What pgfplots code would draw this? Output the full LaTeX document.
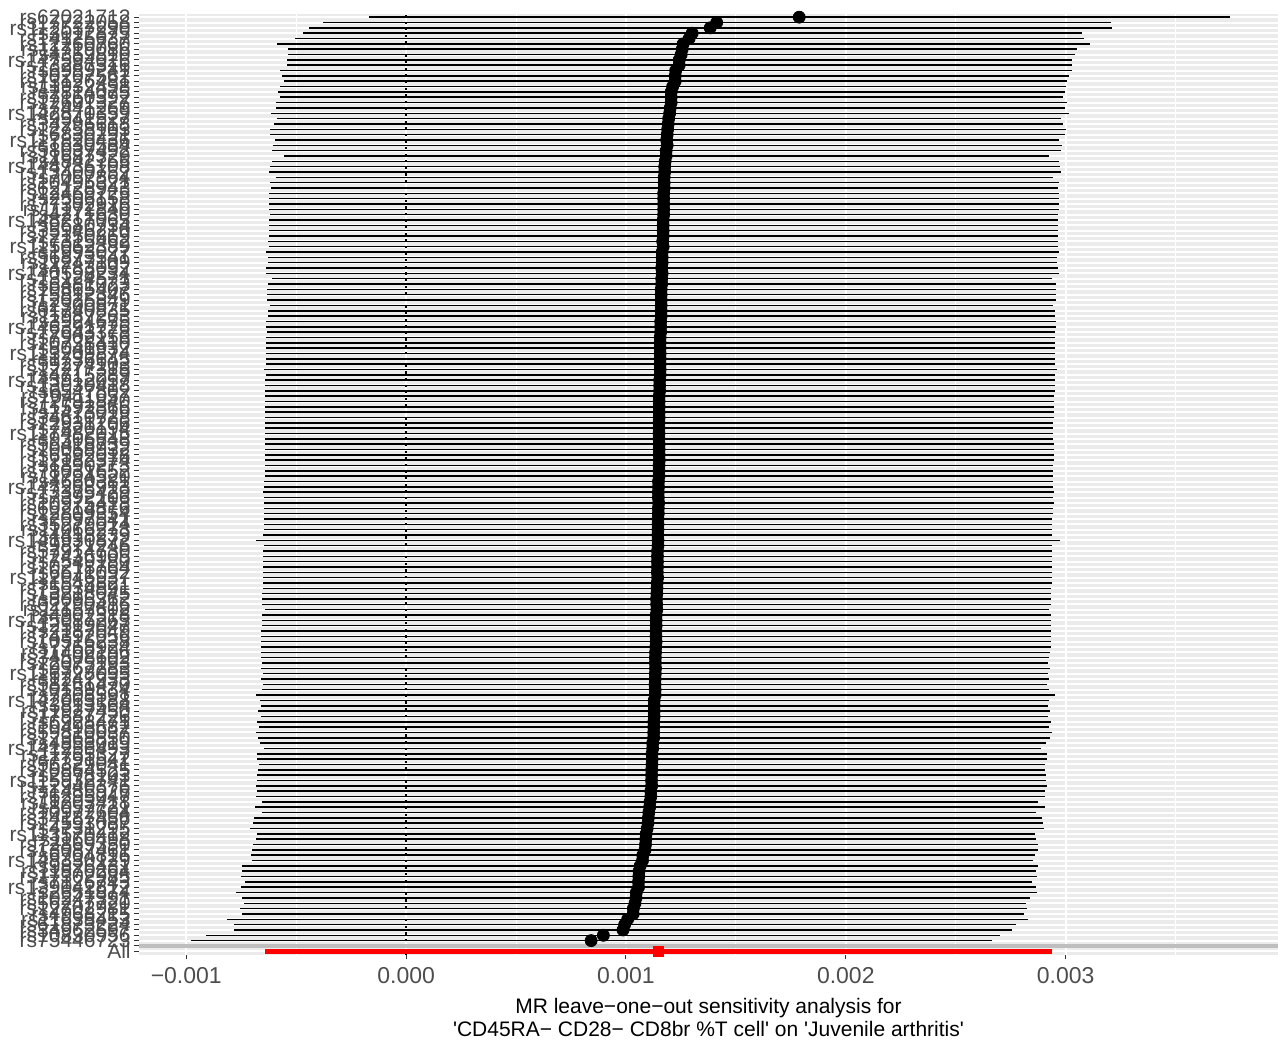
\documentclass[border=0pt]{standalone}
\usepackage{fontspec}
\setmainfont{Liberation Sans}
\usepackage{pgfplots}
\usepackage{pgfplotstable}
\pgfplotsset{compat=1.18}
\definecolor{gg92}{HTML}{EBEBEB}
\definecolor{gg30}{HTML}{4D4D4D}
\definecolor{gg20}{HTML}{333333}
\definecolor{ggrey}{HTML}{BEBEBE}
\definecolor{ggred}{HTML}{FF0000}

\pgfplotstableread{
y b lo hi
176 1.7880e-3 -0.1706e-3 3.7466e-3
175 1.4127e-3 -0.3799e-3 3.2052e-3
174 1.3831e-3 -0.4436e-3 3.2098e-3
173 1.3012e-3 -0.4709e-3 3.0732e-3
172 1.2875e-3 -0.5073e-3 3.0823e-3
171 1.2602e-3 -0.5892e-3 3.1096e-3
170 1.2557e-3 -0.5391e-3 3.0505e-3
169 1.2512e-3 -0.5391e-3 3.0414e-3
168 1.2421e-3 -0.5437e-3 3.0278e-3
167 1.2421e-3 -0.5437e-3 3.0278e-3
166 1.2262e-3 -0.5755e-3 3.0278e-3
165 1.2239e-3 -0.5664e-3 3.0141e-3
164 1.2239e-3 -0.5573e-3 3.0050e-3
163 1.2125e-3 -0.5755e-3 3.0005e-3
162 1.2057e-3 -0.5846e-3 2.9959e-3
161 1.2057e-3 -0.5755e-3 2.9868e-3
160 1.2057e-3 -0.5937e-3 3.0050e-3
159 1.2011e-3 -0.5937e-3 2.9959e-3
158 1.1988e-3 -0.6165e-3 3.0141e-3
157 1.1943e-3 -0.5892e-3 2.9777e-3
156 1.1920e-3 -0.6028e-3 2.9868e-3
155 1.1898e-3 -0.6210e-3 3.0005e-3
154 1.1875e-3 -0.6210e-3 2.9959e-3
153 1.1852e-3 -0.5983e-3 2.9686e-3
152 1.1875e-3 -0.6074e-3 2.9823e-3
151 1.1829e-3 -0.6119e-3 2.9777e-3
150 1.1829e-3 -0.5573e-3 2.9231e-3
149 1.1784e-3 -0.6119e-3 2.9686e-3
148 1.1761e-3 -0.6210e-3 2.9732e-3
147 1.1761e-3 -0.6256e-3 2.9777e-3
146 1.1738e-3 -0.5937e-3 2.9413e-3
145 1.1738e-3 -0.6210e-3 2.9686e-3
144 1.1738e-3 -0.6165e-3 2.9641e-3
143 1.1715e-3 -0.6256e-3 2.9686e-3
142 1.1715e-3 -0.6256e-3 2.9686e-3
141 1.1715e-3 -0.6256e-3 2.9686e-3
140 1.1715e-3 -0.6256e-3 2.9686e-3
139 1.1715e-3 -0.6210e-3 2.9641e-3
138 1.1693e-3 -0.6256e-3 2.9641e-3
137 1.1693e-3 -0.6256e-3 2.9641e-3
136 1.1693e-3 -0.6256e-3 2.9641e-3
135 1.1693e-3 -0.6256e-3 2.9641e-3
134 1.1670e-3 -0.6301e-3 2.9641e-3
133 1.1693e-3 -0.6256e-3 2.9641e-3
132 1.1647e-3 -0.6392e-3 2.9686e-3
131 1.1647e-3 -0.6301e-3 2.9595e-3
130 1.1647e-3 -0.6301e-3 2.9595e-3
129 1.1625e-3 -0.6392e-3 2.9641e-3
128 1.1647e-3 -0.6392e-3 2.9686e-3
127 1.1625e-3 -0.6119e-3 2.9368e-3
126 1.1625e-3 -0.6301e-3 2.9550e-3
125 1.1602e-3 -0.6347e-3 2.9550e-3
124 1.1602e-3 -0.6347e-3 2.9550e-3
123 1.1602e-3 -0.6347e-3 2.9550e-3
122 1.1602e-3 -0.6210e-3 2.9413e-3
121 1.1602e-3 -0.6301e-3 2.9504e-3
120 1.1602e-3 -0.6301e-3 2.9504e-3
119 1.1579e-3 -0.6392e-3 2.9550e-3
118 1.1579e-3 -0.6392e-3 2.9550e-3
117 1.1579e-3 -0.6347e-3 2.9504e-3
116 1.1556e-3 -0.6392e-3 2.9504e-3
115 1.1556e-3 -0.6392e-3 2.9504e-3
114 1.1556e-3 -0.6392e-3 2.9504e-3
113 1.1556e-3 -0.6392e-3 2.9504e-3
112 1.1556e-3 -0.6392e-3 2.9504e-3
111 1.1556e-3 -0.6392e-3 2.9504e-3
110 1.1556e-3 -0.6483e-3 2.9595e-3
109 1.1556e-3 -0.6392e-3 2.9504e-3
108 1.1533e-3 -0.6438e-3 2.9504e-3
107 1.1533e-3 -0.6438e-3 2.9504e-3
106 1.1533e-3 -0.6438e-3 2.9504e-3
105 1.1511e-3 -0.6438e-3 2.9459e-3
104 1.1511e-3 -0.6438e-3 2.9459e-3
103 1.1511e-3 -0.6438e-3 2.9459e-3
102 1.1511e-3 -0.6438e-3 2.9459e-3
101 1.1511e-3 -0.6438e-3 2.9459e-3
100 1.1504e-3 -0.6438e-3 2.9445e-3
99 1.1504e-3 -0.6438e-3 2.9445e-3
98 1.1504e-3 -0.6438e-3 2.9445e-3
97 1.1504e-3 -0.6438e-3 2.9445e-3
96 1.1511e-3 -0.6438e-3 2.9459e-3
95 1.1511e-3 -0.6438e-3 2.9459e-3
94 1.1511e-3 -0.6438e-3 2.9459e-3
93 1.1517e-3 -0.6438e-3 2.9472e-3
92 1.1504e-3 -0.6438e-3 2.9445e-3
91 1.1504e-3 -0.6438e-3 2.9445e-3
90 1.1504e-3 -0.6438e-3 2.9445e-3
89 1.1479e-3 -0.6469e-3 2.9427e-3
88 1.1481e-3 -0.6483e-3 2.9445e-3
87 1.1472e-3 -0.6515e-3 2.9459e-3
86 1.1472e-3 -0.6469e-3 2.9413e-3
85 1.1488e-3 -0.6483e-3 2.9459e-3
84 1.1472e-3 -0.6483e-3 2.9427e-3
83 1.1472e-3 -0.6469e-3 2.9413e-3
82 1.1458e-3 -0.6483e-3 2.9399e-3
81 1.1458e-3 -0.6483e-3 2.9399e-3
80 1.1458e-3 -0.6483e-3 2.9399e-3
79 1.1451e-3 -0.6497e-3 2.9399e-3
78 1.1458e-3 -0.6847e-3 2.9763e-3
77 1.1458e-3 -0.6483e-3 2.9399e-3
76 1.1436e-3 -0.6497e-3 2.9368e-3
75 1.1433e-3 -0.6515e-3 2.9381e-3
74 1.1433e-3 -0.6515e-3 2.9381e-3
73 1.1433e-3 -0.6515e-3 2.9381e-3
72 1.1426e-3 -0.6529e-3 2.9381e-3
71 1.1442e-3 -0.6515e-3 2.9399e-3
70 1.1420e-3 -0.6529e-3 2.9368e-3
69 1.1413e-3 -0.6529e-3 2.9354e-3
68 1.1406e-3 -0.6542e-3 2.9354e-3
67 1.1390e-3 -0.6542e-3 2.9322e-3
66 1.1397e-3 -0.6561e-3 2.9354e-3
65 1.1404e-3 -0.6424e-3 2.9231e-3
64 1.1374e-3 -0.6574e-3 2.9322e-3
63 1.1374e-3 -0.6574e-3 2.9322e-3
62 1.1374e-3 -0.6574e-3 2.9322e-3
61 1.1367e-3 -0.6588e-3 2.9322e-3
60 1.1367e-3 -0.6588e-3 2.9322e-3
59 1.1374e-3 -0.6606e-3 2.9354e-3
58 1.1358e-3 -0.6606e-3 2.9322e-3
57 1.1345e-3 -0.6588e-3 2.9277e-3
56 1.1338e-3 -0.6588e-3 2.9263e-3
55 1.1338e-3 -0.6542e-3 2.9217e-3
54 1.1345e-3 -0.6620e-3 2.9309e-3
53 1.1335e-3 -0.6529e-3 2.9199e-3
52 1.1329e-3 -0.6606e-3 2.9263e-3
51 1.1322e-3 -0.6529e-3 2.9172e-3
50 1.1329e-3 -0.6574e-3 2.9231e-3
49 1.1329e-3 -0.6847e-3 2.9504e-3
48 1.1283e-3 -0.6665e-3 2.9231e-3
47 1.1283e-3 -0.6620e-3 2.9186e-3
46 1.1283e-3 -0.6743e-3 2.9309e-3
45 1.1283e-3 -0.6620e-3 2.9186e-3
44 1.1267e-3 -0.6788e-3 2.9322e-3
43 1.1267e-3 -0.6697e-3 2.9231e-3
42 1.1261e-3 -0.6847e-3 2.9368e-3
41 1.1261e-3 -0.6756e-3 2.9277e-3
40 1.1215e-3 -0.6665e-3 2.9095e-3
39 1.1215e-3 -0.6469e-3 2.8899e-3
38 1.1185e-3 -0.6770e-3 2.9140e-3
37 1.1192e-3 -0.6788e-3 2.9172e-3
36 1.1183e-3 -0.6697e-3 2.9063e-3
35 1.1169e-3 -0.6743e-3 2.9081e-3
34 1.1169e-3 -0.6788e-3 2.9126e-3
33 1.1163e-3 -0.6770e-3 2.9095e-3
32 1.1169e-3 -0.6834e-3 2.9172e-3
31 1.1131e-3 -0.6802e-3 2.9063e-3
30 1.1133e-3 -0.6815e-3 2.9081e-3
29 1.1094e-3 -0.6574e-3 2.8762e-3
28 1.1078e-3 -0.6893e-3 2.9049e-3
27 1.1040e-3 -0.6574e-3 2.8653e-3
26 1.1019e-3 -0.6906e-3 2.8944e-3
25 1.1003e-3 -0.6984e-3 2.8990e-3
24 1.0965e-3 -0.7106e-3 2.9035e-3
23 1.0919e-3 -0.6788e-3 2.8626e-3
22 1.0903e-3 -0.6847e-3 2.8653e-3
21 1.0889e-3 -0.6984e-3 2.8762e-3
20 1.0867e-3 -0.7029e-3 2.8762e-3
19 1.0767e-3 -0.7061e-3 2.8594e-3
18 1.0753e-3 -0.7029e-3 2.8535e-3
17 1.0646e-3 -0.7470e-3 2.8762e-3
16 1.0594e-3 -0.7484e-3 2.8672e-3
15 1.0585e-3 -0.7516e-3 2.8685e-3
14 1.0571e-3 -0.7348e-3 2.8490e-3
13 1.0571e-3 -0.7530e-3 2.8672e-3
12 1.0471e-3 -0.7757e-3 2.8699e-3
11 1.0458e-3 -0.7484e-3 2.8399e-3
10 1.0412e-3 -0.7393e-3 2.8217e-3
9 1.0335e-3 -0.7575e-3 2.8244e-3
8 1.0328e-3 -0.7452e-3 2.8108e-3
7 1.0078e-3 -0.8153e-3 2.8308e-3
6 0.9941e-3 -0.7848e-3 2.7730e-3
5 0.9866e-3 -0.7848e-3 2.7580e-3
4 0.8972e-3 -0.9090e-3 2.7034e-3
3 0.8417e-3 -0.9804e-3 2.6638e-3
}\snps

\pgfplotstableread{
y b lo hi
1 1.1465e-3 -0.6438e-3 2.9368e-3
}\allrow

\begin{document}
\begin{tikzpicture}[x=1pt,y=1pt]
\path[use as bounding box] (0,0) rectangle (639,521.5);
\begin{axis}[
  at={(69.5pt,44.25pt)}, anchor=south west,
  scale only axis, width=569.5pt, height=470.25pt,
  xmin=-0.001215, xmax=0.003966, ymin=0.4, ymax=176.6,
  scaled x ticks=false,
  axis background/.style={fill=gg92},
  axis line style={draw=none},
  xtick={-0.001,0,0.001,0.002,0.003},
  xticklabels={−0.001,0.000,0.001,0.002,0.003},
  minor xtick={-0.0005,0.0005,0.0015,0.0025,0.0035},
  ytick={1,...,176},
  yticklabels={All,{},rs75446723,rs10830956,rs34962597,rs61873224,rs11638453,rs4968215,rs12702981,rs56247720,rs10247391,rs2651874,rs139042812,
rs7126743,rs17302985,rs11870264,rs9826431,rs148330129,rs6704816,rs13087461,rs72869350,rs1160498,rs113570412,
rs4731295,rs12593087,rs34187456,rs10972604,rs8057721,rs11203418,rs76295047,rs1485926,rs12940376,rs115932741,
rs2978103,rs10864525,rs56329041,rs7791542,rs11755327,rs141256493,rs4853019,rs12368850,rs59810037,rs10493682,
rs6928471,rs17587226,rs11927450,rs3813564,rs142063188,rs7208591,rs10159834,rs58261470,rs1247933,rs116728095,
rs9367283,rs12075193,rs34508602,rs11402196,rs7768924,rs10516238,rs74392056,rs2187049,rs12519047,rs145087263,
rs4902318,rs11157602,rs62290416,rs8095362,rs13218045,rs75034891,rs1548821,rs112046937,rs6671092,rs10218764,
rs7549180,rs12436905,rs57914730,rs9871246,rs141930872,rs4418239,rs11066273,rs35279014,rs2097541,rs12809354,
rs60214876,rs10975418,rs7392106,rs13375429,rs147268913,rs4660381,rs11794520,rs78031652,rs1890273,rs12182374,
rs6592018,rs10058932,rs56418739,rs9306648,rs117482015,rs7820194,rs12931206,rs34610728,rs2473019,rs11592366,
rs72791840,rs10411057,rs6547802,rs13030418,rs143912057,rs4715289,rs12277315,rs59274103,rs1736645,rs113209874,
rs8041932,rs10738410,rs7902156,rs12643378,rs146391726,rs3924675,rs11987263,rs61740835,rs2300871,rs12025849,
rs75812346,rs10865407,rs6481023,rs13124571,rs140598234,rs4783092,rs11247109,rs56873541,rs1993027,rs115062389,
rs7315462,rs12150869,rs35946210,rs9680734,rs148217065,rs4271630,rs11172840,rs77302916,rs2506158,rs12469725,
rs62128943,rs10495321,rs7057864,rs13400752,rs144736108,rs4842765,rs11687329,rs58037492,rs1630584,rs117820436,
rs6830291,rs12758103,rs34296618,rs9941527,rs142870359,rs7441269,rs12601327,rs57160392,rs2814075,rs11932458,
rs73126481,rs10207562,rs6989241,rs13287316,rs147594026,rs4359810,rs11719086,
rs12260760,rs14125637,rs3012875,rs112537290,rs17722058,rs62021712},
  xmajorgrids, xminorgrids, ymajorgrids,
  major grid style={white, line width=1pt},
  minor grid style={white, line width=0.5pt},
  tick align=outside, xtick pos=bottom, ytick pos=left,
  major tick length=2.5pt, minor tick length=0pt,
  tick style={gg20, line width=0.5pt},
  x tick label style={font=\fontsize{11.5}{12}\selectfont, text=gg30, inner sep=0pt, anchor=north, yshift=-4pt},
  y tick label style={font=\fontsize{10.5}{11}\selectfont, text=gg30, inner sep=0pt, anchor=east, xshift=-1.5pt},
  xlabel={MR leave−one−out sensitivity analysis for\\\textquotesingle CD45RA− CD28− CD8br \%T cell\textquotesingle{} on \textquotesingle Juvenile arthritis\textquotesingle},
  xlabel style={at={(axis description cs:0.5,0)}, anchor=north, yshift=-21.5pt, inner sep=0pt, align=center, font=\fontsize{10.5}{11.5}\selectfont, text=black},
]
\addplot[draw=none, mark=none, forget plot,
  error bars/.cd, x dir=both, x explicit, error mark=none,
  error bar style={draw=black, line width=0.75pt, solid}]
  table[x=b, y=y, x error plus expr=\thisrow{hi}-\thisrow{b}, x error minus expr=\thisrow{b}-\thisrow{lo}] {\snps};
\addplot[only marks, mark=*, mark size=3pt, black, forget plot] table[x=b, y=y] {\snps};
\addplot[black, line width=1.1pt, dash pattern=on 1.1pt off 2.2pt, forget plot] coordinates {(0,0.4) (0,176.6)};
\addplot[ggrey, line width=1.8pt, forget plot] coordinates {(-0.001215,2) (0.003966,2)};
\addplot[draw=none, mark=none, forget plot,
  error bars/.cd, x dir=both, x explicit, error mark=none,
  error bar style={draw=ggred, line width=2.5pt, solid}]
  table[x=b, y=y, x error plus expr=\thisrow{hi}-\thisrow{b}, x error minus expr=\thisrow{b}-\thisrow{lo}] {\allrow};
\addplot[only marks, mark=square*, mark size=2.5pt, ggred, forget plot] table[x=b, y=y] {\allrow};
\end{axis}
\end{tikzpicture}
\end{document}
